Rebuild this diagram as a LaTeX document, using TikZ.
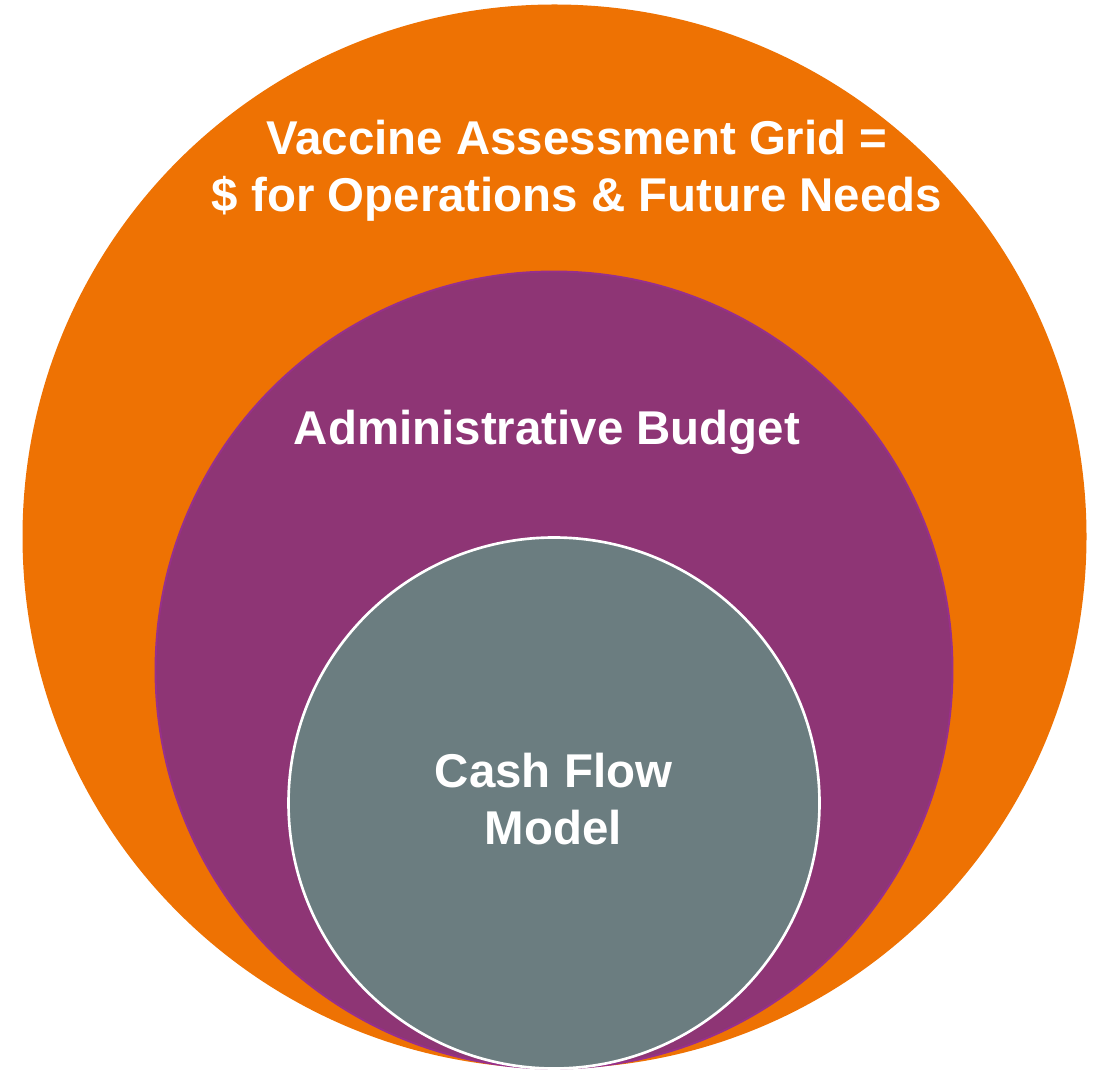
\documentclass[tikz,border=0pt]{standalone}
\usepackage{fontspec}
\setmainfont{Liberation Sans}
\usepackage{tikz}
\definecolor{gridorange}{HTML}{EE7203}
\definecolor{budgetpurple}{HTML}{8E3575}
\definecolor{budgetedge}{HTML}{97308B}
\definecolor{cashgray}{HTML}{6B7D80}

\begin{document}
\begin{tikzpicture}[x=0.02cm,y=-0.02cm,
        lbl/.style={text=white,align=center,inner sep=0pt,anchor=base,
            font=\bfseries\fontsize{27}{33}\selectfont}]
        \useasboundingbox (0,0) rectangle (1099,1070);
        % the three rings
        \fill[gridorange] (554.5,536.5) circle [radius=532];
        \filldraw[fill=budgetpurple,draw=budgetedge,line width=1.1pt] (554,670) circle [radius=398.5];
        \filldraw[fill=cashgray,draw=white,line width=1.5pt] (554,803) circle [radius=265.5];
        % labels (base = last line)
        \node[lbl] (grid) at (577,212)
            {Vaccine Assessment Grid =\\ \$ for Operations \& Future Needs};
        \node[lbl] (budget) at (547,445) {Administrative Budget};
        \node[lbl] (cash) at (553.5,845) {Cash Flow\\ Model};
\end{tikzpicture}
\end{document}
